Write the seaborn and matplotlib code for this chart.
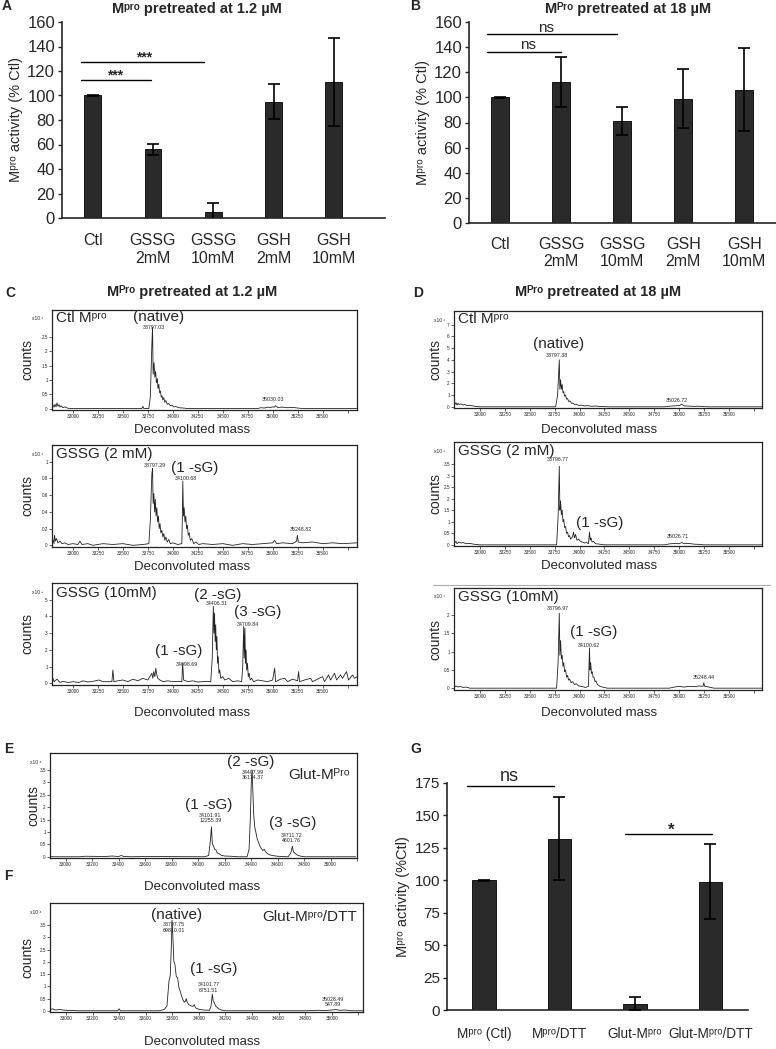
import numpy as np
import pandas as pd
import matplotlib
matplotlib.use("Agg")
import matplotlib.pyplot as plt
import seaborn as sns
from matplotlib.lines import Line2D

# ------------------------------------------------------------------ data
A_CATS = ["Ctl", "GSSG\n2mM", "GSSG\n10mM", "GSH\n2mM", "GSH\n10mM"]
A_VALS = [100, 56, 5, 95, 111]
A_ERRS = [0.5, 4.5, 7, 14, 36]

B_CATS = ["Ctl", "GSSG\n2mM", "GSSG\n10mM", "GSH\n2mM", "GSH\n10mM"]
B_VALS = [100, 112, 81, 99, 106]
B_ERRS = [0.5, 20, 11, 23.5, 33]

G_CATS = ["M\u1d56\u02b3\u1d52 (Ctl)", "M\u1d56\u02b3\u1d52/DTT", "Glut-M\u1d56\u02b3\u1d52", "Glut-M\u1d56\u02b3\u1d52/DTT"]
G_VALS = [100, 132, 5, 99]
G_ERRS = [0.5, 32, 5, 29]

AB_YTICKS = [0, 20, 40, 60, 80, 100, 120, 140, 160]
G_YTICKS = [0, 25, 50, 75, 100, 125, 150, 175]

CD_XTICKS = [33000, 33250, 33500, 33750, 34000, 34250, 34500, 34750, 35000, 35250, 35500, 35750]
EF_XTICKS = [33000, 33200, 33400, 33600, 33800, 34000, 34200, 34400, 34600, 34800, 35000, 35200]

# deconvoluted spectra (mass, counts)
SPEC_C1 = [(32790,0.03),(32800,0.12),(32810,0.05),(32820,0.15),(32830,0.06),(32840,0.2),(32850,0.08),
           (32860,0.14),(32870,0.05),(32880,0.1),(32900,0.03),(32920,0.06),(32950,0.01),(33000,0.0),
           (33400,0.0),(33690,0.0),(33700,0.08),(33710,0.0),(33760,0.0),(33775,0.4),(33790,2.2),
           (33797,2.85),(33803,1.2),(33812,1.6),(33820,1.1),(33828,1.3),(33836,0.9),(33845,1.05),
           (33852,0.7),(33860,0.85),(33868,0.55),(33876,0.62),(33884,0.4),(33892,0.45),(33900,0.3),
           (33910,0.38),(33920,0.22),(33930,0.28),(33945,0.15),(33960,0.18),(33975,0.1),(33990,0.12),
           (34010,0.06),(34030,0.07),(34060,0.03),(34100,0.02),(34150,0.0),(34850,0.0),(34880,0.03),
           (34920,0.02),(34950,0.05),(34980,0.04),(35000,0.06),(35020,0.05),(35030,0.1),(35050,0.04),
           (35100,0.05),(35150,0.03),(35200,0.04),(35250,0.02),(35300,0.0),(35845,0.0)]

SPEC_C2 = [(32790,0.02),(32800,0.07),(32810,0.02),(32815,0.12),(32825,0.05),(32835,0.08),(32850,0.03),
           (32870,0.05),(32890,0.02),(32920,0.03),(32950,0.01),(33000,0.02),(33050,0.01),(33070,0.05),
           (33090,0.01),(33150,0.02),(33200,0.0),(33300,0.02),(33400,0.01),(33500,0.02),(33600,0.0),
           (33700,0.01),(33760,0.02),(33775,0.3),(33790,0.85),(33797,0.92),(33803,0.5),(33810,0.62),
           (33818,0.4),(33825,0.55),(33832,0.35),(33840,0.45),(33848,0.28),(33856,0.35),(33864,0.2),
           (33872,0.26),(33880,0.15),(33890,0.18),(33900,0.1),(33910,0.14),(33920,0.06),(33930,0.1),
           (33945,0.04),(33960,0.07),(33975,0.02),(34000,0.03),(34050,0.01),(34090,0.02),(34095,0.3),
           (34100,0.77),(34107,0.35),(34114,0.45),(34122,0.28),(34130,0.35),(34138,0.2),(34146,0.24),
           (34155,0.12),(34165,0.15),(34175,0.06),(34190,0.08),(34210,0.02),(34230,0.04),(34260,0.01),
           (34300,0.02),(34400,0.01),(34500,0.02),(34600,0.0),(34700,0.02),(34800,0.01),(34900,0.02),
           (35000,0.03),(35020,0.06),(35040,0.02),(35100,0.03),(35200,0.02),(35240,0.05),(35248,0.12),
           (35256,0.04),(35300,0.03),(35400,0.04),(35500,0.02),(35600,0.03),(35700,0.02),(35845,0.03)]

SPEC_C3 = [(32790,0.05),(32800,0.3),(32810,0.1),(32840,0.25),(32870,0.05),(32900,0.12),(32950,0.05),
           (33000,0.1),(33060,0.05),(33100,0.15),(33150,0.08),(33200,0.12),(33260,0.2),(33300,0.1),
           (33390,0.1),(33400,0.8),(33410,0.1),(33450,0.15),(33500,0.2),(33550,0.1),(33600,0.25),
           (33650,0.15),(33700,0.3),(33750,0.2),(33770,0.4),(33790,0.6),(33800,0.3),(33810,0.7),
           (33820,0.4),(33830,0.9),(33840,0.5),(33850,0.3),(33870,0.2),(33900,0.1),(33950,0.15),
           (34000,0.1),(34050,0.12),(34090,0.1),(34099,1.2),(34108,0.2),(34150,0.1),(34200,0.15),
           (34250,0.08),(34300,0.1),(34350,0.12),(34380,0.1),(34395,1.5),(34406,4.6),(34412,3.0),
           (34418,4.2),(34424,2.5),(34430,3.5),(34436,2.0),(34442,2.8),(34448,1.2),(34455,1.6),
           (34462,0.6),(34470,0.8),(34480,0.3),(34500,0.4),(34520,0.2),(34560,0.3),(34600,0.1),
           (34650,0.15),(34690,0.1),(34700,1.0),(34710,3.4),(34716,1.5),(34722,3.3),(34728,1.2),
           (34734,2.0),(34740,0.8),(34748,1.2),(34756,0.4),(34765,0.6),(34775,0.2),(34790,0.3),
           (34810,0.1),(34850,0.2),(34900,0.15),(34950,0.1),(35000,0.2),(35020,0.9),(35030,0.1),
           (35080,0.25),(35120,0.3),(35150,0.1),(35200,0.25),(35250,0.15),(35260,0.7),(35270,0.1),
           (35320,0.2),(35380,0.3),(35400,0.1),(35450,0.25),(35500,0.4),(35520,0.1),(35560,0.5),
           (35580,0.2),(35620,0.6),(35640,0.2),(35680,0.5),(35700,0.3),(35740,0.7),(35760,0.2),
           (35800,0.5),(35820,0.3),(35845,0.4)]

SPEC_D1 = [(32740,0.1),(32760,0.35),(32770,0.15),(32780,0.3),(32790,0.2),(32810,0.25),(32830,0.15),
           (32850,0.2),(32870,0.1),(32900,0.12),(32950,0.05),(33000,0.0),(33700,0.0),(33760,0.0),
           (33780,1.0),(33797,4.0),(33803,1.5),(33810,2.3),(33818,1.5),(33826,1.9),(33834,1.2),
           (33842,1.3),(33850,0.9),(33860,1.0),(33870,0.65),(33880,0.7),(33892,0.45),(33905,0.5),
           (33920,0.3),(33935,0.32),(33950,0.2),(33970,0.22),(33990,0.12),(34020,0.14),(34050,0.08),
           (34080,0.1),(34120,0.05),(34160,0.07),(34200,0.03),(34250,0.02),(34300,0.0),(34850,0.0),
           (34900,0.05),(34950,0.08),(35000,0.1),(35026,0.22),(35050,0.08),(35100,0.06),(35150,0.04),
           (35200,0.05),(35250,0.02),(35300,0.0),(35832,0.0)]

SPEC_D2 = [(32740,0.05),(32760,0.15),(32770,0.05),(32790,0.12),(32810,0.08),(32830,0.1),(32860,0.05),
           (32900,0.06),(32950,0.02),(33000,0.0),(33700,0.0),(33770,0.0),(33785,1.2),(33797,3.4),
           (33803,1.5),(33810,1.9),(33818,1.3),(33826,1.5),(33834,1.0),(33842,1.1),(33850,0.75),
           (33860,0.8),(33870,0.5),(33880,0.55),(33890,0.35),(33900,0.4),(33910,0.25),(33920,0.3),
           (33930,0.35),(33940,0.55),(33950,0.3),(33960,0.45),(33975,0.2),(33990,0.25),(34010,0.15),
           (34030,0.12),(34050,0.08),(34070,0.1),(34090,0.05),(34100,0.55),(34108,0.2),(34116,0.3),
           (34126,0.12),(34140,0.15),(34160,0.05),(34200,0.03),(34250,0.0),(34850,0.0),(34900,0.04),
           (34950,0.06),(35000,0.05),(35026,0.1),(35050,0.05),(35100,0.06),(35150,0.03),(35200,0.02),
           (35250,0.0),(35832,0.0)]

SPEC_D3 = [(32740,0.02),(32760,0.06),(32780,0.03),(32800,0.05),(32830,0.02),(32860,0.03),(32900,0.0),
           (33700,0.0),(33770,0.0),(33785,0.7),(33797,2.05),(33803,0.9),(33810,1.3),(33818,0.8),
           (33826,0.9),(33834,0.6),(33842,0.7),(33850,0.45),(33860,0.5),(33870,0.3),(33880,0.35),
           (33890,0.22),(33900,0.25),(33915,0.15),(33930,0.18),(33950,0.1),(33970,0.12),(33990,0.06),
           (34020,0.05),(34060,0.02),(34090,0.05),(34095,0.6),(34100,1.1),(34106,0.5),(34112,0.7),
           (34120,0.4),(34128,0.45),(34136,0.3),(34145,0.3),(34155,0.18),(34165,0.2),(34180,0.1),
           (34200,0.06),(34230,0.03),(34280,0.0),(34900,0.0),(34950,0.03),(35000,0.05),(35050,0.03),
           (35100,0.05),(35150,0.04),(35200,0.06),(35240,0.05),(35248,0.15),(35256,0.05),(35300,0.03),
           (35350,0.0),(35832,0.0)]

SPEC_E = [(32882,0.02),(32900,0.0),(33100,0.0),(33150,0.02),(33300,0.01),(33350,0.03),(33400,0.01),
          (33420,0.05),(33440,0.01),(33500,0.0),(33600,0.01),(34050,0.0),(34080,0.05),(34092,0.6),
          (34101,1.2),(34108,0.5),(34116,0.45),(34125,0.3),(34135,0.28),(34145,0.15),(34160,0.12),
          (34175,0.06),(34200,0.03),(34250,0.02),(34300,0.0),(34370,0.0),(34385,0.3),(34395,1.6),
          (34402,3.0),(34408,3.5),(34414,2.6),(34420,1.7),(34428,1.2),(34436,1.0),(34445,0.75),
          (34455,0.6),(34465,0.45),(34475,0.35),(34490,0.25),(34500,0.3),(34510,0.2),(34525,0.12),
          (34540,0.08),(34560,0.05),(34600,0.02),(34680,0.0),(34700,0.15),(34712,0.42),(34720,0.2),
          (34730,0.15),(34745,0.08),(34770,0.03),(34800,0.0),(35190,0.0)]

SPEC_F = [(32882,0.05),(32900,0.08),(32920,0.03),(32950,0.05),(33000,0.02),(33100,0.0),(33390,0.0),
          (33400,0.08),(33410,0.0),(33700,0.0),(33740,0.05),(33760,0.2),(33775,1.2),(33785,1.45),
          (33792,2.5),(33798,3.7),(33804,3.1),(33812,2.0),(33820,1.9),(33830,1.4),(33840,1.35),
          (33850,0.95),(33860,0.8),(33870,0.6),(33880,0.45),(33890,0.35),(33900,0.4),(33905,0.5),
          (33912,0.35),(33925,0.25),(33940,0.2),(33955,0.18),(33965,0.25),(33975,0.12),(33990,0.08),
          (34010,0.05),(34040,0.03),(34080,0.02),(34092,0.2),(34101,0.68),(34108,0.4),(34115,0.35),
          (34125,0.2),(34135,0.15),(34150,0.08),(34170,0.03),(34200,0.0),(34800,0.0),(34900,0.02),
          (34950,0.01),(35000,0.03),(35028,0.05),(35060,0.02),(35100,0.03),(35150,0.0),(35235,0.0)]

# ------------------------------------------------------------------ style
sns.set_style("ticks")
plt.rcParams['font.family'] = ['Liberation Sans', 'DejaVu Sans']
BAR_COLOR = "#2a2a2a"
LINE_COLOR = "#222222"
MPRO = "M\u1d56\u02b3\u1d52"
MPRO_C = "M\u1d3e\u02b3\u1d52"

W, H = 776, 1049
fig = plt.figure(figsize=(W / 100, H / 100), dpi=100)


def add_ax(l, t, r, b):
    return fig.add_axes([l / W, 1 - b / H, (r - l) / W, (b - t) / H])


def ftext(x, y, s, **kw):
    fig.text(x / W, 1 - y / H, s, **kw)


def bar_panel(box, cats, vals, errs, yticks, xlim, width, ylabel, ytfs, xtfs, ylfs, xpad):
    l, t, r, b = box
    ax = add_ax(l, t, r, b)
    df = pd.DataFrame({"group": cats, "activity": vals})
    sns.barplot(data=df, x="group", y="activity", order=cats, color=BAR_COLOR, saturation=1,
                width=width, edgecolor="black", linewidth=0.6, errorbar=None, ax=ax)
    ax.errorbar(np.arange(len(vals)), vals, yerr=errs, fmt="none", ecolor="black",
                elinewidth=1.2, capsize=4, capthick=1.2, zorder=5)
    ax.set_xlim(*xlim)
    ax.set_ylim(yticks[0], yticks[-1])
    ax.set_yticks(yticks)
    ax.set_xlabel("")
    ax.set_ylabel(ylabel, fontsize=ylfs, labelpad=3)
    ax.tick_params(axis='y', labelsize=ytfs, length=3, width=1, pad=2)
    ax.tick_params(axis='x', labelsize=xtfs, length=0, pad=xpad)
    sns.despine(ax=ax)
    for s in ('left', 'bottom'):
        ax.spines[s].set_linewidth(1.2)
    return ax


def sig(ax, x0, x1, y, label, ty, tx, fs, weight="normal"):
    ax.plot([x0, x1], [y, y], color="black", lw=1.0, clip_on=False)
    ax.text(tx, ty, label, ha="center", va="center", fontsize=fs, fontweight=weight)


def spectrum(box, data, xlim, ylim, xticks, nlab, yticks, mult, name, name_xy, name_ha,
             xl_x, xl_dy, yl_dx):
    l, t, r, b = box
    ax = add_ax(l, t, r, b)
    mass = [p[0] for p in data]
    cnt = [p[1] for p in data]
    sns.lineplot(x=mass, y=cnt, ax=ax, color=LINE_COLOR, linewidth=0.6, estimator=None, sort=False)
    ax.set_xlim(*xlim)
    ax.set_ylim(*ylim)
    ax.set_xticks(xticks)
    ax.set_xticklabels([str(v) if i < nlab else "" for i, v in enumerate(xticks)])
    ax.set_yticks(yticks)
    ax.set_yticklabels([f"{v:g}" for v in yticks])
    ax.tick_params(labelsize=3.3, length=2, width=0.5, pad=1)
    for s in ax.spines.values():
        s.set_linewidth(0.9)
        s.set_color("#222222")
    ax.set_xlabel("Deconvoluted mass", fontsize=9.5)
    ax.set_ylabel("counts", fontsize=10)
    ax.xaxis.set_label_coords(xl_x, -(xl_dy - 6) / (b - t))
    ax.yaxis.set_label_coords(-(yl_dx - 6) / (r - l), 0.5)
    ftext(l - 9, t + 9, mult, fontsize=3.5, ha="right", va="center")
    ax.text(name_xy[0], name_xy[1], name, transform=ax.transAxes, ha=name_ha, va="top", fontsize=11)
    return ax


def lab(ax, x, y, s, fs=3.8):
    ax.text(x, y, s, ha="center", va="center", fontsize=fs, linespacing=1.05)


# ------------------------------------------------------------------ A
axA = bar_panel((62, 22, 385, 218), A_CATS, A_VALS, A_ERRS, AB_YTICKS, (-0.51, 4.85), 0.28,
                MPRO + " activity (% Ctl)", 12, 11.5, 10.5, 11)
sig(axA, -0.2, 0.96, 112.5, "***", 116, 0.37, 10, "bold")
sig(axA, -0.2, 1.84, 127.6, "***", 131, 0.85, 10, "bold")

# ------------------------------------------------------------------ B
axB = bar_panel((469, 22, 776, 223), B_CATS, B_VALS, B_ERRS, AB_YTICKS, (-0.51, 4.52), 0.3,
                MPRO + " activity (% Ctl)", 12, 11.5, 10.5, 10)
sig(axB, -0.21, 1.92, 150.2, "ns", 155, 0.75, 11)
sig(axB, -0.21, 1.0, 136.4, "ns", 141.5, 0.45, 11)

# ------------------------------------------------------------------ G
axG = bar_panel((447, 783, 748, 1010), G_CATS, G_VALS, G_ERRS, G_YTICKS, (-0.49, 3.5), 0.31,
                MPRO + " activity (%Ctl)", 11, 9.8, 10.5, 12)
sig(axG, -0.22, 0.93, 172.7, "ns", 180, 0.34, 13)
sig(axG, 1.87, 3.02, 136, "*", 138.5, 2.48, 12, "bold")

# ------------------------------------------------------------------ C
c1 = spectrum((52, 310, 357, 410), SPEC_C1, (32790, 35845), (-0.05, 3.45), CD_XTICKS, 11,
              [0, 0.5, 1, 1.5, 2, 2.5], "x10 \u00b3", "Ctl " + MPRO, (0.012, 0.985), "left", 0.46, 20, 24)
lab(c1, 33860, 3.2, "(native)", 11)
lab(c1, 33810, 2.84, "33797.03")
lab(c1, 35000, 0.3, "35030.03")

c2 = spectrum((52, 445, 357, 547), SPEC_C2, (32790, 35845), (-0.02, 1.2), CD_XTICKS, 11,
              [0, 0.2, 0.4, 0.6, 0.8, 1], "x10 \u00b3", "GSSG (2 mM)", (0.012, 0.985), "left", 0.46, 20, 24)
lab(c2, 33820, 0.96, "33797.29")
lab(c2, 34220, 0.92, "(1 -sG)", 11)
lab(c2, 34127, 0.80, "34100.68")
lab(c2, 35287, 0.19, "35248.82")

c3 = spectrum((52, 583, 357, 685), SPEC_C3, (32790, 35845), (-0.1, 6.0), CD_XTICKS, 11,
              [0, 1, 2, 3, 4, 5], "x10 \u00b2", "GSSG (10mM)", (0.012, 0.97), "left", 0.46, 28, 24)
lab(c3, 34453, 5.3, "(2 -sG)", 11)
lab(c3, 34443, 4.75, "34406.31")
lab(c3, 34853, 4.25, "(3 -sG)", 11)
lab(c3, 34753, 3.5, "34709.84")
lab(c3, 34060, 1.95, "(1 -sG)", 11)
lab(c3, 34143, 1.15, "34098.69")

# ------------------------------------------------------------------ D
d1 = spectrum((454, 311, 762, 408), SPEC_D1, (32740, 35832), (-0.1, 8.15), CD_XTICKS, 11,
              [0, 1, 2, 3, 4, 5, 6, 7], "x10 \u00b3", "Ctl " + MPRO, (0.012, 0.985), "left", 0.47, 22, 18)
lab(d1, 33790, 5.36, "(native)", 11)
lab(d1, 33773, 4.37, "33797.38")
lab(d1, 34981, 0.54, "35026.72")

d2 = spectrum((454, 442, 762, 546), SPEC_D2, (32740, 35832), (-0.05, 4.45), CD_XTICKS, 11,
              [0, 0.5, 1, 1.5, 2, 2.5, 3, 3.5], "x10 \u00b3", "GSSG (2 mM)", (0.012, 0.985), "left", 0.47, 20, 18)
lab(d2, 33783, 3.7, "33796.77")
lab(d2, 34204, 0.93, "(1 -sG)", 11)
lab(d2, 34990, 0.34, "35026.71")

d3 = spectrum((454, 588, 762, 690), SPEC_D3, (32740, 35832), (-0.05, 2.74), CD_XTICKS, 11,
              [0, 0.5, 1, 1.5, 2], "x10 \u00b3", "GSSG (10mM)", (0.012, 0.985), "left", 0.47, 23, 18)
lab(d3, 33783, 2.17, "33796.97")
lab(d3, 34144, 1.53, "(1 -sG)", 11)
lab(d3, 34090, 1.17, "34100.62")
lab(d3, 35246, 0.29, "35248.44")

fig.add_artist(Line2D([433 / W, 770 / W], [1 - 585 / H, 1 - 585 / H], color="#aaaaaa", lw=0.8))

# ------------------------------------------------------------------ E / F
e = spectrum((50, 753, 357, 858), SPEC_E, (32882, 35190), (-0.05, 4.18), EF_XTICKS, 11,
             [0, 0.5, 1, 1.5, 2, 2.5, 3, 3.5], "x10 \u2074", "Glut-" + MPRO_C, (0.977, 0.86), "right", 0.495, 29, 16)
lab(e, 34398, 3.8, "(2 -sG)", 11)
lab(e, 34411, 3.28, "34407.99\n36174.37")
lab(e, 34080, 2.07, "(1 -sG)", 11)
lab(e, 34092, 1.56, "34101.91\n12255.39")
lab(e, 34711, 1.36, "(3 -sG)", 11)
lab(e, 34707, 0.75, "34711.72\n4601.76")

f = spectrum((50, 903, 363, 1012), SPEC_F, (32880, 35235), (-0.05, 4.4), EF_XTICKS, 11,
             [0, 0.5, 1, 1.5, 2, 2.5, 3, 3.5], "x10 \u2074", "Glut-" + MPRO + "/DTT", (0.98, 0.94), "right", 0.486, 30, 22)
lab(f, 33835, 3.9, "(native)", 11)
lab(f, 33809, 3.4, "33797.75\n69810.01")
lab(f, 34110, 1.7, "(1 -sG)", 11)
lab(f, 34072, 0.95, "34101.77\n6751.51")
lab(f, 35012, 0.37, "35028.49\n547.89")

# ------------------------------------------------------------------ titles and panel letters
ftext(197, 9, MPRO + " pretreated at 1.2 \u00b5M", ha="center", va="center", fontsize=10.5, fontweight="bold")
ftext(628, 9, MPRO_C + " pretreated at 18 \u00b5M", ha="center", va="center", fontsize=10.5, fontweight="bold")
ftext(192, 292, MPRO_C + " pretreated at 1.2 \u00b5M", ha="center", va="center", fontsize=10.5, fontweight="bold")
ftext(598, 292, MPRO_C + " pretreated at 18 \u00b5M", ha="center", va="center", fontsize=10.5, fontweight="bold")

for letter, x, y in [("A", 2, 6), ("B", 410, 6), ("C", 5, 293), ("D", 413, 293),
                     ("E", 4, 749), ("F", 4, 876), ("G", 410, 749)]:
    ftext(x, y, letter, ha="left", va="center", fontsize=10, fontweight="bold")

fig.savefig("out.png", dpi=100)
